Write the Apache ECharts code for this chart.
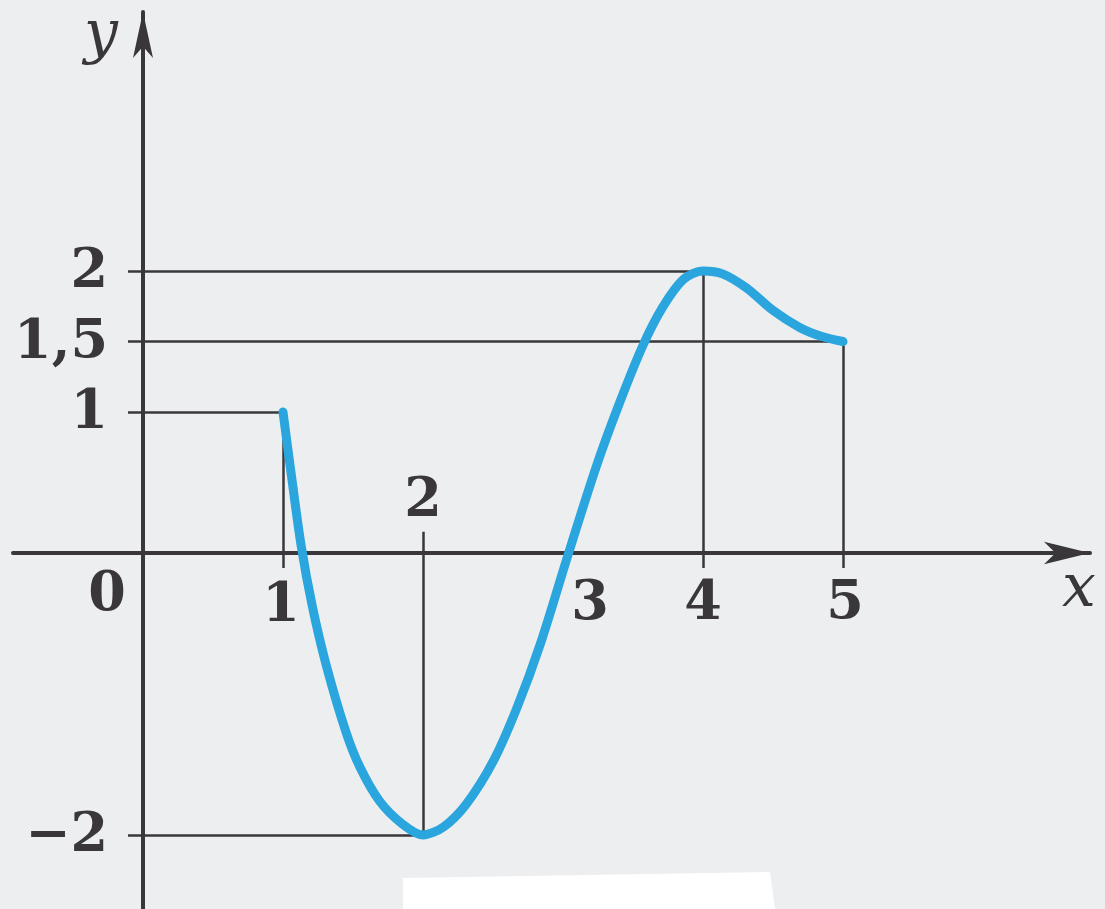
<!DOCTYPE html>
<html>
<head>
<meta charset="utf-8">
<script src="https://cdn.jsdelivr.net/npm/echarts@6/dist/echarts.min.js"></script>
<style>
html,body{margin:0;padding:0;background:#eceef0;}
#chart{width:1105px;height:909px;}
</style>
</head>
<body>
<div id="chart"></div>
<script>
// ---- data ----
const curveX = [1.00, 1.06, 1.13, 1.21, 1.31, 1.45, 1.55, 1.69, 1.85, 2.00, 2.15, 2.31, 2.50, 2.67, 2.84, 3.04, 3.24, 3.41, 3.57, 3.71, 3.86, 4.00, 4.14, 4.31, 4.50, 4.69, 4.85, 5.00];
const curveY = [1.00, 0.55, 0.05, -0.38, -0.80, -1.27, -1.52, -1.76, -1.92, -2.00, -1.94, -1.78, -1.48, -1.10, -0.64, 0.00, 0.62, 1.08, 1.47, 1.74, 1.94, 2.00, 1.98, 1.88, 1.72, 1.60, 1.535, 1.50];
const keyX = [1, 2, 4, 5];
const keyY = [1, -2, 2, 1.5];
const xTickValues = [1, 2, 3, 4, 5];
const xTickLabels = ['1', '2', '3', '4', '5'];
const yTickValues = [2, 1.5, 1, -2];
const yTickLabels = ['2', '1,5', '1', '\u22122'];
const originLabel = '0';

// ---- styling / layout ----
const ink = '#3a373a';
const font = 'DejaVu Serif';
const fSize = 54;
const fWeight = 'bold';
const stubX = -0.107, stubY = -0.107, labelGapY = 0.15;
const xLabelOffsets = {1: [-2, 54], 2: [0, -51], 3: [27, 52], 4: [0, 52], 5: [2, 52]};

const curveData = curveX.map((x, i) => [x, curveY[i]]);
const guides = [];
keyX.forEach((x, i) => {
  const y = keyY[i];
  guides.push({coords: [[stubX, y], [x, y]]});
  if (y > 0) guides.push({coords: [[x, y], [x, stubY]]});
  else guides.push({coords: [[x, labelGapY], [x, y]]});
});
const labelData = xTickValues.map((v, i) => ({
  value: [v, 0],
  label: {formatter: xTickLabels[i], position: xLabelOffsets[v]}
}));
labelData.push({value: [0, 0], label: {formatter: originLabel, position: [-36, 43]}});
yTickValues.forEach((v, i) => labelData.push({
  value: [0, v],
  label: {formatter: yTickLabels[i], position: [-35, 2], align: 'right'}
}));

const chart = echarts.init(document.getElementById('chart'));
chart.setOption({
  backgroundColor: '#eceef0',
  animation: false,
  grid: {left: 13, right: 15, top: 12, bottom: 0, containLabel: false, outerBoundsMode: 'none'},
  xAxis: {
    type: 'value', min: -0.92857, max: 6.76429,
    splitLine: {show: false}, axisTick: {show: false}, axisLabel: {show: false},
    axisLine: {onZero: true, lineStyle: {color: ink, width: 4},
      symbol: ['none', 'arrow'], symbolSize: [17, 46], symbolOffset: [0, 0]}
  },
  yAxis: {
    type: 'value', min: -2.5248, max: 3.8369,
    splitLine: {show: false}, axisTick: {show: false}, axisLabel: {show: false},
    axisLine: {onZero: true, lineStyle: {color: ink, width: 4},
      symbol: ['none', 'arrow'], symbolSize: [15, 46], symbolOffset: [0, 0]}
  },
  graphic: [
    {type: 'text', left: 84, top: 6, style: {text: 'y', fill: ink, font: 'italic 60px "DejaVu Serif"'}},
    {type: 'text', left: 1062, top: 560, style: {text: 'x', fill: ink, font: 'italic 60px "DejaVu Serif"'}},
    {type: 'polygon', shape: {points: [[403, 878], [770, 872], [775, 909], [403, 909]]}, style: {fill: '#ffffff'}}
  ],
  series: [
    {
      type: 'lines', coordinateSystem: 'cartesian2d', z: 2,
      lineStyle: {color: ink, width: 2.5, opacity: 1},
      data: guides
    },
    {
      type: 'line', data: curveData, smooth: 0.3,
      showSymbol: false, z: 3,
      lineStyle: {color: '#2ba5dd', width: 9, cap: 'round', join: 'round'}
    },
    {
      type: 'scatter', data: labelData, symbolSize: 0, z: 4,
      itemStyle: {opacity: 1},
      label: {show: true, align: 'center', verticalAlign: 'middle', opacity: 1,
        color: ink, fontFamily: font, fontSize: fSize, fontWeight: fWeight}
    }
  ]
});
</script>
</body>
</html>
